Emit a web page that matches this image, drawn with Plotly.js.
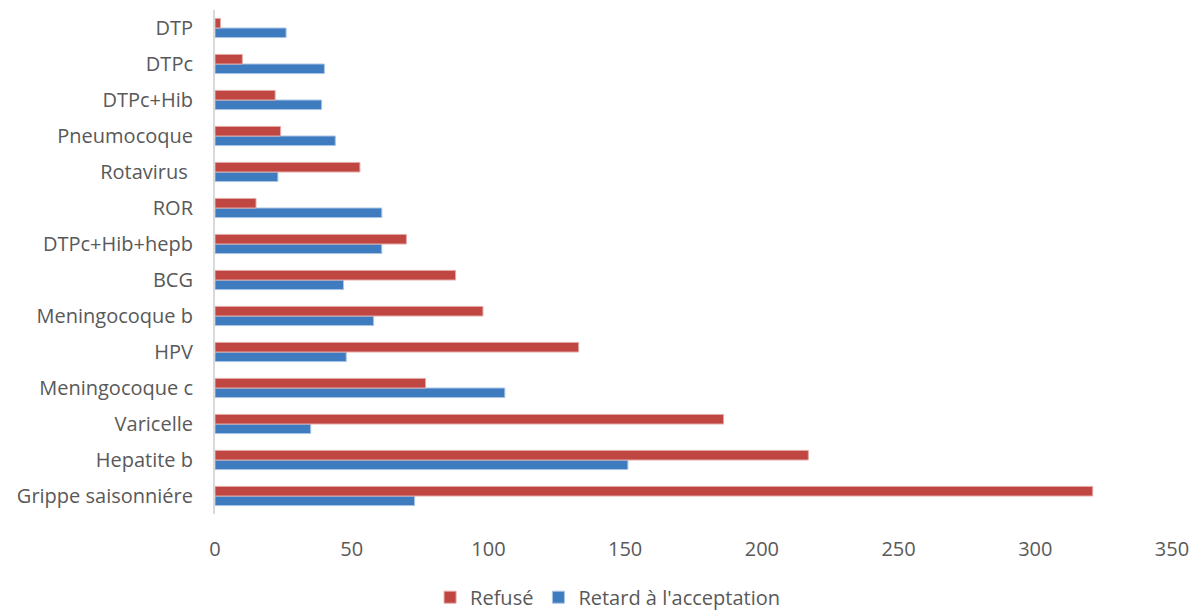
<!DOCTYPE html>
<html><head><meta charset="utf-8">
<script src="https://cdn.plot.ly/plotly-3.0.1.min.js"></script>
<style>body{margin:0;background:#fff}#c{width:1196px;height:610px}</style>
</head><body><div id="c"></div>
<script>
const categories = ["Grippe saisonniére","Hepatite b","Varicelle","Meningocoque c","HPV","Meningocoque b","BCG","DTPc+Hib+hepb","ROR","Rotavirus ","Pneumocoque","DTPc+Hib","DTPc","DTP"];
const refuse = [321,217,186,77,133,98,88,70,15,53,24,22,10,2];
const retard = [73,151,35,106,48,58,47,61,61,23,44,39,40,26];
const tickVals = [0,50,100,150,200,250,300,350];

const data = [
  {type:'bar', orientation:'h', name:"Retard à l'acceptation", y:categories, x:retard,
   marker:{color:'#3F7CBF', line:{color:'#A9C4E4', width:1}}},
  {type:'bar', orientation:'h', name:'Refusé', y:categories, x:refuse,
   marker:{color:'#C04642', line:{color:'#E3A9A7', width:1}}}
];
const layout = {
  width:1196, height:610, barmode:'group', bargap:0.47, bargroupgap:0,
  margin:{l:215, r:24, t:10, b:96},
  paper_bgcolor:'#fff', plot_bgcolor:'#fff',
  font:{family:'"Open Sans", Lato, sans-serif', size:20, color:'#595959'},
  xaxis:{range:[0,350], tickvals:tickVals, showgrid:false, zeroline:false, showline:false, automargin:false,
         ticks:'', ticklabelstandoff:21, tickfont:{size:20, color:'#595959'}},
  yaxis:{type:'category', showgrid:false, zeroline:false, showline:true, linecolor:'#D9D9D9', linewidth:2, automargin:false,
         ticks:'', ticklabelstandoff:16, tickfont:{size:20, color:'#595959'}},
  showlegend:true,
  legend:{orientation:'h', x:0.508, xref:'container', xanchor:'center', y:0.021, yref:'container', yanchor:'middle',
          traceorder:'reversed', font:{size:20, color:'#595959'}, itemwidth:30}
};
Plotly.newPlot('c', data, layout, {displayModeBar:false});
</script></body></html>
